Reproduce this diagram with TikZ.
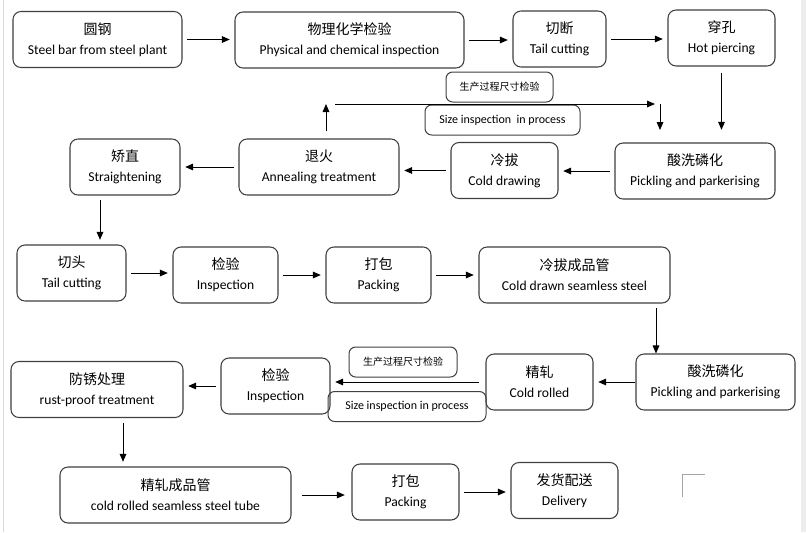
\documentclass[tikz,border=0pt]{standalone}
\usepackage{fontspec}
\setmainfont{Carlito}
\newfontfamily\cjk{Noto Sans CJK SC}
\usetikzlibrary{arrows.meta,calc}
% two-line step label: Chinese over English
\newcommand\steplbl[2]{{\cjk\fontsize{10.5}{15}\selectfont #1}\\#2}

\begin{document}
\begin{tikzpicture}[x=0.75pt,y=-0.75pt,
  stepbox/.style={draw=black!75, line width=0.8pt, rounded corners=6pt,
    minimum height=42pt, inner sep=0pt, align=center,
    font=\fontsize{10.2}{15}\selectfont},
  notebox/.style={draw=black!75, line width=0.75pt, rounded corners=5pt,
    minimum height=22.5pt, inner sep=0pt},
  tip/.style={-{Triangle[length=6pt,width=5pt]}, line width=0.75pt},
  arr/.style={tip, shorten <=3.5pt, shorten >=3.5pt},
]
\useasboundingbox (0,0) rectangle (806,532);
\fill[white] (0,0) rectangle (806,532);
\fill[black!7] (801,0) rectangle (806,532);
\draw[black!15] (3.5,0) -- (3.5,532);

% row 1
\node[stepbox, minimum width=126.75pt] (yuangang) at (97.5,39.5) {\steplbl{圆钢}{Steel bar from steel plant}};
\node[stepbox, minimum width=171.75pt] (wuli) at (349.5,40) {\steplbl{物理化学检验}{Physical and chemical inspection}};
\node[stepbox, minimum width=69.75pt] (qieduan) at (559.5,39) {\steplbl{切断}{Tail cutting}};
\node[stepbox, minimum width=80.25pt] (chuankong) at (721.5,38) {\steplbl{穿孔}{Hot piercing}};

% row 2
\node[stepbox, minimum width=82.5pt] (jiaozhi) at (125,167) {\steplbl{矫直}{Straightening}};
\node[stepbox, minimum width=120pt] (tuihuo) at (319,167) {\steplbl{退火}{Annealing treatment}};
\node[stepbox, minimum width=80.25pt] (lengba) at (504.5,170.5) {\steplbl{冷拔}{Cold drawing}};
\node[stepbox, minimum width=120pt] (suanxia) at (695,171) {\steplbl{酸洗磷化}{Pickling and parkerising}};

% row 3
\node[stepbox, minimum width=81.75pt] (qietou) at (71.5,273) {\steplbl{切头}{Tail cutting}};
\node[stepbox, minimum width=78.75pt] (jianyana) at (225.5,275) {\steplbl{检验}{Inspection}};
\node[stepbox, minimum width=78.75pt] (dabaoa) at (378.5,275) {\steplbl{打包}{Packing}};
\node[stepbox, minimum width=143.25pt] (lengbagd) at (574.5,275) {\steplbl{冷拔成品管}{Cold drawn seamless steel}};

% row 4
\node[stepbox, minimum width=129pt] (fangxiu) at (97,389.5) {\steplbl{防锈处理}{rust-proof treatment}};
\node[stepbox, minimum width=81.75pt] (jianyanb) at (275.5,386) {\steplbl{检验}{Inspection}};
\node[stepbox, minimum width=80.25pt] (jingzha) at (539.5,382) {\steplbl{精轧}{Cold rolled}};
\node[stepbox, minimum width=119.25pt] (suanxib) at (715.5,382) {\steplbl{酸洗磷化}{Pickling and parkerising}};

% row 5
\node[stepbox, minimum width=173.25pt] (jingzhagd) at (175.5,495) {\steplbl{精轧成品管}{cold rolled seamless steel tube}};
\node[stepbox, minimum width=80.25pt] (dabaob) at (405.5,492) {\steplbl{打包}{Packing}};
\node[stepbox, minimum width=80.25pt] (fahuo) at (564.5,490.5) {\steplbl{发货配送}{Delivery}};

% size inspection notes
\node[notebox, minimum width=80.25pt, font=\cjk\fontsize{7.5}{9}\selectfont] (notecna) at (499.5,87) {生产过程尺寸检验};
\node[notebox, minimum width=116.25pt, font=\fontsize{9}{11}\selectfont] (noteena) at (502.5,120) {Size inspection~ in process};
\node[notebox, minimum width=81pt, font=\cjk\fontsize{7.5}{9}\selectfont] (notecnb) at (403,362) {生产过程尺寸检验};
\node[notebox, minimum width=118.5pt, font=\fontsize{9}{11}\selectfont] (noteenb) at (407,406.5) {Size inspection in process};

% flow
\draw[arr] (yuangang.east) -- (yuangang.east -| wuli.west);
\draw[arr] (wuli.east) -- (wuli.east -| qieduan.west);
\draw[arr] (qieduan.east) -- (qieduan.east -| chuankong.west);
\draw[arr, shorten <=5pt, shorten >=9.5pt] (chuankong.south) -- (chuankong.south |- suanxia.north);
\draw[arr] (suanxia.west) -- (suanxia.west -| lengba.east);
\draw[arr] (lengba.west) -- (lengba.west -| tuihuo.east);
\draw[arr] (tuihuo.west) -- (tuihuo.west -| jiaozhi.east);
\draw[arr] ($(jiaozhi.south)+(-25,0)$) -- ($(jiaozhi.south |- qietou.north)+(-25,0)$);
\draw[arr] (qietou.east) -- (qietou.east -| jianyana.west);
\draw[arr] (jianyana.east) -- (jianyana.east -| dabaoa.west);
\draw[arr] (dabaoa.east) -- (dabaoa.east -| lengbagd.west);
\draw[arr, shorten >=0pt] ($(lengbagd.south)+(81.5,0)$) -- ($(lengbagd.south |- suanxib.north)+(81.5,0)$);
\draw[arr, shorten <=0pt] (suanxib.west) -- (suanxib.west -| jingzha.east);
\draw[arr, shorten <=5pt] (jingzha.west) -- (jingzha.west -| jianyanb.east);
\draw[arr] (jianyanb.west) -- (jianyanb.west -| fangxiu.east);
\draw[arr] ($(fangxiu.south)+(26,0)$) -- ($(fangxiu.south |- jingzhagd.north)+(26,0)$);
\draw[arr, shorten <=8pt, shorten >=5pt] (jingzhagd.east) -- (jingzhagd.east -| dabaob.west);
\draw[arr] (dabaob.east) -- (dabaob.east -| fahuo.west);

% annealing loop
\coordinate (loopa) at (326,131);
\coordinate (loopb) at (326,104);
\coordinate (loopc) at (335,104);
\coordinate (loopd) at (655,104);
\coordinate (loope) at (660,104);
\coordinate (loopf) at (660,130);
\draw[tip] (loopa) -- (loopb);
\draw[tip] (loopc) -- (loopd);
\draw[tip] (loope) -- (loopf);

% corner mark
\draw[black!35, line width=0.75pt] (682,497) -- (682,474) -- (705,474);
\end{tikzpicture}
\end{document}
